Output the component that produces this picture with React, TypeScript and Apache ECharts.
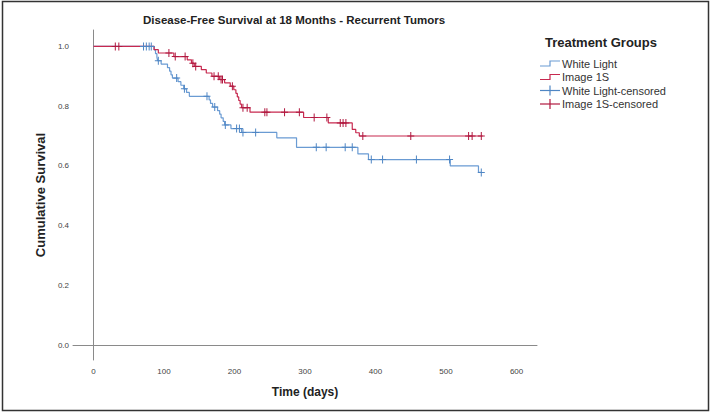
import React, { useEffect, useRef } from "react";
import * as echarts from "echarts";

// Kaplan-Meier estimates: event days and survival after each event
const whiteLightEventDays = [86, 88, 90, 91, 96, 105, 108, 110, 112, 120, 124, 128, 132, 136, 164, 166, 169, 176, 179, 181, 184, 186, 195, 210, 260, 288, 375, 390, 506, 546];
const whiteLightSurvival = [0.988, 0.976, 0.964, 0.952, 0.941, 0.929, 0.917, 0.905, 0.894, 0.882, 0.870, 0.858, 0.846, 0.833, 0.821, 0.809, 0.797, 0.785, 0.773, 0.761, 0.749, 0.737, 0.725, 0.712, 0.694, 0.662, 0.640, 0.621, 0.600, 0.578];
const whiteLightCensoredDays = [71, 75, 79, 82, 92, 118, 129, 161, 172, 187, 203, 207, 212, 230, 316, 330, 357, 367, 394, 410, 458, 505, 550];
const whiteLightLastDay = 550;

const image1SEventDays = [86, 92, 114, 133, 139, 143, 153, 160, 168, 179, 186, 194, 199, 202, 204, 206, 208, 210, 222, 298, 333, 367, 372, 377];
const image1SSurvival = [0.989, 0.978, 0.966, 0.955, 0.944, 0.933, 0.922, 0.911, 0.900, 0.889, 0.878, 0.867, 0.855, 0.843, 0.831, 0.819, 0.807, 0.795, 0.780, 0.762, 0.744, 0.722, 0.711, 0.700];
const image1SCensoredDays = [31, 36, 107, 116, 130, 141, 145, 171, 177, 181, 183, 197, 212, 218, 243, 246, 271, 292, 313, 331, 350, 354, 358, 382, 450, 532, 537, 550];
const image1SLastDay = 552;

const xTickValues = [0, 100, 200, 300, 400, 500, 600];
const yTickValues = [0, 0.2, 0.4, 0.6, 0.8, 1.0];

const groupNames = ["White Light", "Image 1S", "White Light-censored", "Image 1S-censored"];

const BLUE = "#6a9bd3";
const BLUE_MARK = "#4f86c4";
const RED = "#c7294f";
const RED_MARK = "#b0183f";
const FONT = "Liberation Sans, Arial, sans-serif";

const PLUS = "path://M3,0 H4 V8 H3 Z M0,3.5 H7 V4.5 H0 Z";

function survivalAt(days: number[], surv: number[], t: number): number {
  let s = 1;
  for (let i = 0; i < days.length; i++) {
    if (days[i] <= t) s = surv[i];
  }
  return s;
}

function curve(days: number[], surv: number[], lastDay: number): number[][] {
  const pts: number[][] = [[0, 1]];
  days.forEach((d, i) => pts.push([d, surv[i]]));
  pts.push([lastDay, surv[surv.length - 1]]);
  return pts;
}

function censorMarks(censored: number[], days: number[], surv: number[]): number[][] {
  return censored.map((t) => [t, survivalAt(days, surv, t)]);
}

export default function App() {
  const ref = useRef<HTMLDivElement>(null);

  useEffect(() => {
    if (!ref.current) return;
    const chart = echarts.init(ref.current, undefined, { renderer: "svg" });

    const legendX = 540;
    const legendRows = [63.5, 77, 90.5, 104];
    const legendColors = [BLUE, RED, BLUE_MARK, RED_MARK];
    const legendGraphics: any[] = [
      {
        type: "text",
        left: 545,
        top: 36,
        style: { text: "Treatment Groups", font: `bold 13px ${FONT}`, fill: "#222" },
      },
    ];
    groupNames.forEach((name, i) => {
      const y = legendRows[i];
      const color = legendColors[i];
      if (i < 2) {
        legendGraphics.push({
          type: "polyline",
          shape: { points: [[legendX, y + 2.5], [legendX + 10, y + 2.5], [legendX + 10, y - 2.5], [legendX + 20, y - 2.5]] },
          style: { stroke: color, lineWidth: 1.2, fill: null },
        });
      } else {
        legendGraphics.push({
          type: "line",
          shape: { x1: legendX, y1: y, x2: legendX + 20, y2: y },
          style: { stroke: color, lineWidth: 1.2 },
        });
        legendGraphics.push({
          type: "line",
          shape: { x1: legendX + 10, y1: y - 5, x2: legendX + 10, y2: y + 5 },
          style: { stroke: color, lineWidth: 1.2 },
        });
      }
      legendGraphics.push({
        type: "text",
        x: legendX + 22,
        y: y,
        style: { text: name, font: `11px ${FONT}`, fill: "#333", textVerticalAlign: "middle" },
      });
    });

    chart.setOption({
      animation: false,
      backgroundColor: "#ffffff",
      title: {
        text: "Disease-Free Survival at 18 Months - Recurrent Tumors",
        left: 143,
        top: 14,
        padding: 0,
        textStyle: { fontFamily: FONT, fontSize: 11.5, fontWeight: "bold", color: "#222" },
      },
      grid: { left: 73, right: 174, top: 30, bottom: 54 },
      xAxis: {
        type: "value",
        min: -29,
        max: 629,
        name: "Time (days)",
        nameLocation: "middle",
        nameGap: 26,
        nameTextStyle: { fontFamily: FONT, fontSize: 12, fontWeight: "bold", color: "#222" },
        axisLine: { lineStyle: { color: "#8a8a8a", width: 1 } },
        axisTick: { show: false },
        splitLine: { show: false },
        axisLabel: { customValues: xTickValues, fontFamily: FONT, fontSize: 8, color: "#444", margin: 7 },
      },
      yAxis: {
        type: "value",
        min: -0.05,
        max: 1.055,
        name: "Cumulative Survival",
        nameLocation: "middle",
        nameGap: 25,
        nameTextStyle: { fontFamily: FONT, fontSize: 13, fontWeight: "bold", color: "#222" },
        axisLine: { show: true, lineStyle: { color: "#8a8a8a", width: 1 } },
        axisTick: { show: false },
        splitLine: { show: false },
        axisLabel: {
          customValues: yTickValues,
          formatter: (v: number) => v.toFixed(1),
          fontFamily: FONT,
          fontSize: 8,
          color: "#444",
          margin: 4,
        },
      },
      series: [
        {
          name: groupNames[0],
          type: "line",
          step: "end",
          symbol: "none",
          data: curve(whiteLightEventDays, whiteLightSurvival, whiteLightLastDay),
          lineStyle: { color: BLUE, width: 1.2 },
          z: 2,
        },
        {
          name: groupNames[1],
          type: "line",
          step: "end",
          symbol: "none",
          data: curve(image1SEventDays, image1SSurvival, image1SLastDay),
          lineStyle: { color: RED, width: 1.2 },
          z: 3,
        },
        {
          name: groupNames[2],
          type: "scatter",
          symbol: PLUS,
          symbolSize: [7, 8],
          data: censorMarks(whiteLightCensoredDays, whiteLightEventDays, whiteLightSurvival),
          itemStyle: { color: BLUE_MARK, opacity: 1 },
          z: 4,
        },
        {
          name: groupNames[3],
          type: "scatter",
          symbol: PLUS,
          symbolSize: [7, 8],
          data: censorMarks(image1SCensoredDays, image1SEventDays, image1SSurvival),
          itemStyle: { color: RED_MARK, opacity: 1 },
          z: 5,
        },
      ],
      graphic: [
        {
          type: "rect",
          shape: { x: 2.5, y: 1.5, width: 706, height: 409 },
          style: { stroke: "#333", lineWidth: 1.5, fill: null },
          silent: true,
        },
        ...legendGraphics,
      ],
    });

    return () => chart.dispose();
  }, []);

  return (
    <div
      ref={ref}
      style={{ position: "fixed", left: 0, top: 0, width: 711, height: 414, background: "#fff" }}
    />
  );
}
